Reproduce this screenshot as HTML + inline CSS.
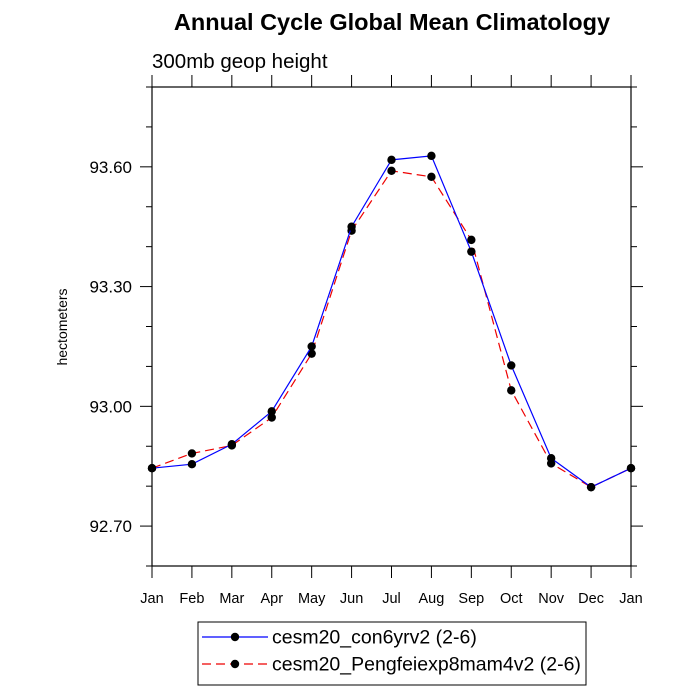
<!DOCTYPE html>
<html><head><meta charset="utf-8"><style>body{margin:0;background:#fff}svg{display:block;font-family:"Liberation Sans",sans-serif}</style></head>
<body>
<svg id="c" width="700" height="700">
<text x="392" y="30" text-anchor="middle" font-size="23.5" font-weight="bold">Annual Cycle Global Mean Climatology</text>
<text x="152" y="68" font-size="20.5">300mb geop height</text>
<text transform="translate(67,327) rotate(-90)" text-anchor="middle" font-size="14">hectometers</text>
<g id="g"></g>
</svg>
<script>
const months=["Jan","Feb","Mar","Apr","May","Jun","Jul","Aug","Sep","Oct","Nov","Dec","Jan"];
const blueVals=[92.845,92.855,92.905,92.9875,93.15,93.45,93.6175,93.6275,93.3875,93.1025,92.87,92.7975,92.845];
const redVals=[92.845,92.882,92.902,92.972,93.132,93.44,93.59,93.575,93.417,93.04,92.857,92.7975,92.845];
const yTicks=[92.70,93.00,93.30,93.60];
const seriesNames=["cesm20_con6yrv2 (2-6)","cesm20_Pengfeiexp8mam4v2 (2-6)"];
const L=152,R=631,T=87,B=566,yMin=92.6,yMax=93.8;
const X=i=>L+(R-L)*i/(months.length-1);
const Y=v=>B-(v-yMin)/(yMax-yMin)*(B-T);
const g=document.getElementById('g');const NS="http://www.w3.org/2000/svg";
function mk(t,a,p){const e=document.createElementNS(NS,t);for(const k in a)e.setAttribute(k,a[k]);(p||g).appendChild(e);return e;}
const frame=mk('rect',{x:L,y:T,width:R-L,height:B-T,fill:'none',stroke:'#000','stroke-width':1.2});


for(let v=92.6;v<=93.8001;v+=0.1){const y=Y(v);const maj=yTicks.some(t=>Math.abs(t-v)<1e-6);const len=maj?12:6;
 const t1=mk('line',{x1:L-len,x2:L,y1:y,y2:y,stroke:'#000'});
 
 
 const t2=mk('line',{x1:R,x2:R+len,y1:y,y2:y,stroke:'#000'});
 
 }
yTicks.forEach(v=>{const t=mk('text',{x:L-20,y:Y(v)+6,'text-anchor':'end','font-size':17});t.textContent=v.toFixed(2);
 
 });
months.forEach((m,i)=>{const x=X(i);
 const a=mk('line',{x1:x,x2:x,y1:B,y2:B+12,stroke:'#000'});
 
 
 const b=mk('line',{x1:x,x2:x,y1:T-12,y2:T,stroke:'#000'});
 
 
 const t=mk('text',{x:x,y:603,'text-anchor':'middle','font-size':14.5});t.textContent=m;
 
 });
function series(vals,color,dash,name){
 const p=mk('polyline',{points:vals.map((v,i)=>X(i)+','+Y(v)).join(' '),fill:'none',stroke:color,'stroke-width':1.2,'stroke-dasharray':dash});
 
 
 vals.forEach((v,i)=>{const c=mk('circle',{cx:X(i),cy:Y(v),r:4.2,fill:'#000'});
  
  });}
series(redVals,'#e00','9,5','red-series');
series(blueVals,'#00f','none','blue-series');
const lg=mk('rect',{x:198,y:622,width:388,height:63,fill:'none',stroke:'#000'});


[[0,'#00f','none'],[1,'#e00','9,5']].forEach(([i,c,d])=>{const y=637+i*27;
 const l=mk('line',{x1:202,x2:268,y1:y,y2:y,stroke:c,'stroke-dasharray':d,'stroke-width':1.2});
 
 
 const dot=mk('circle',{cx:235,cy:y,r:4.2,fill:'#000'});
 
 
 const t=mk('text',{x:272,y:y+6.5,'font-size':19.5});t.textContent=seriesNames[i];
 
 });
</script>
</body></html>
